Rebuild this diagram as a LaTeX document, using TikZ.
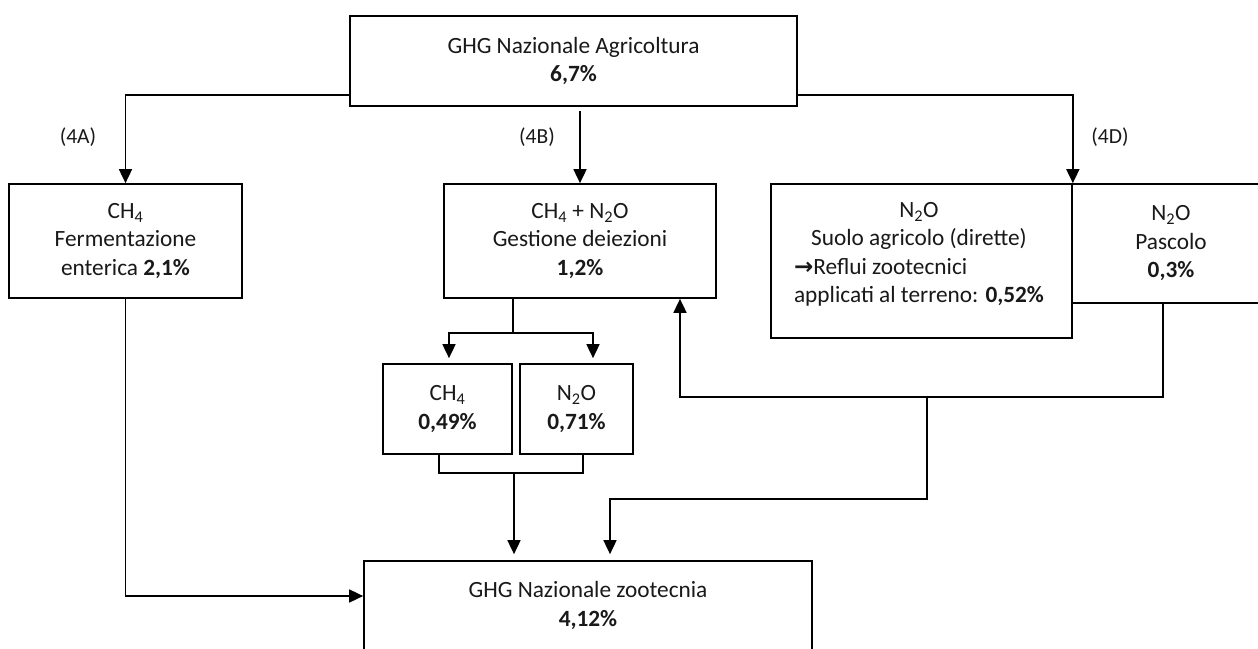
\documentclass[tikz,border=0pt]{standalone}
\usepackage{fontspec}
\usepackage{calc}
\setmainfont{Carlito}
\newfontfamily\arrowfont{DejaVu Sans}
\usetikzlibrary{arrows.meta,calc}
\newcommand\mainfs{\fontsize{23.3}{28.5}\selectfont}
\newcommand\lblfs{\fontsize{21.5}{25}\selectfont}
\colorlet{txt}{black!90}
\begin{document}
\begin{tikzpicture}[x=1pt,y=-1pt,
  box/.style={draw=black, line width=1.7pt, inner sep=0pt, align=center, text=txt, font=\mainfs},
  txtnode/.style={inner sep=0pt, align=center, text=txt, font=\mainfs},
  lbl/.style={text=txt, font=\lblfs, inner sep=0pt},
  conn/.style={line width=1.7pt, draw=black},
  arr/.style={conn, -{Triangle[length=14pt,width=13pt]}},
]
\useasboundingbox[fill=white] (0,0) rectangle (1258,648);

% boxes
\node[box, minimum width=447pt, minimum height=90pt] (top) at (573.5,61)
  {GHG Nazionale Agricoltura\\\textbf{6,7\%}};
\node[box, minimum width=233pt, minimum height=114pt] (a4A) at (125.5,241)
  {CH\textsubscript{4}\\Fermentazione\\enterica \textbf{2,1\%}};
\node[box, minimum width=272pt, minimum height=114pt] (b4B) at (580,241)
  {CH\textsubscript{4} + N\textsubscript{2}O\\Gestione deiezioni\\\textbf{1,2\%}};
\node[box, minimum width=301pt, minimum height=154pt] (d4D) at (921.5,261) {};
\node[txtnode] (d4Dt) at (919,254.5)
  {N\textsubscript{2}O\\Suolo agricolo (dirette)\\
   \makebox[\widthof{applicati al terreno: \textbf{0,52\%}}][l]{{\arrowfont\bfseries\fontsize{23}{25}\selectfont →}Reflui zootecnici}\\
   applicati al terreno: \textbf{0,52\%}};
\node[box, minimum width=198pt, minimum height=119pt] (pasc) at (1171,243.5)
  {N\textsubscript{2}O\\Pascolo\\\textbf{0,3\%}};
\node[box, minimum width=129pt, minimum height=90pt] (ch4) at (447.5,409)
  {CH\textsubscript{4}\\\textbf{0,49\%}};
\node[box, minimum width=113pt, minimum height=90pt] (n2o) at (576.5,409)
  {N\textsubscript{2}O\\\textbf{0,71\%}};
\node[box, minimum width=448pt, minimum height=89pt] (bottom) at (588,605.5)
  {GHG Nazionale zootecnia\\\textbf{4,12\%}};

% labels
\node[lbl] (l4A) at (78,137) {(4A)};
\node[lbl] (l4B) at (537,137) {(4B)};
\node[lbl] (l4D) at (1110,137) {(4D)};

% coordinates
\coordinate (s1) at (513,333);
\coordinate (s2) at (514,473);
\coordinate (j1) at (680,397);
\coordinate (j2) at (927,397);
\coordinate (j3) at (610,499);

% connectors from top
\draw[arr] ($(top.south west)+(0,-12)$) -| (a4A.north);
\draw[arr, shorten <=4pt] (top.south -| b4B.north) -- (b4B.north);
\draw[arr] ($(top.south east)+(0,-12)$) -| (d4D.north east);

% gestione split
\draw[conn] (b4B.south -| s1) -- (s1);
\draw[arr, shorten >=5pt] (s1) -| ($(ch4.north)+(1.5,0)$);
\draw[arr, shorten >=5pt] (s1) -| ($(n2o.north)+(16.5,0)$);

% bracket to bottom
\draw[conn] ($(ch4.south)+(-8.5,0)$) |- (s2) -| ($(n2o.south)+(6.5,0)$);
\draw[arr, shorten >=6pt] (s2) -- (s2 |- bottom.north);

% pascolo branch
\draw[arr] ($(pasc.south)+(-8,0)$) |- (j1) -- (j1 |- b4B.south);
\draw[arr, shorten >=6pt] (j2) |- (j3) -- (j3 |- bottom.north);

% enterica to bottom
\draw[arr] (a4A.south) |- ($(bottom.west)+(0,-9.5)$);
\end{tikzpicture}
\end{document}
